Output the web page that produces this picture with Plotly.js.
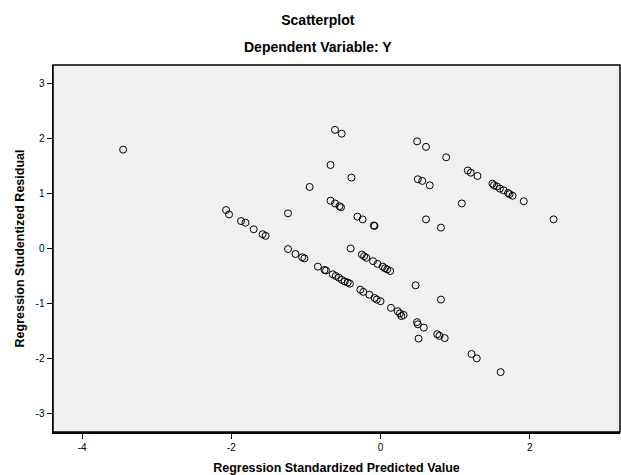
<!DOCTYPE html>
<html>
<head>
<meta charset="utf-8">
<script src="https://cdn.plot.ly/plotly-3.0.1.min.js"></script>
<style>html,body{margin:0;padding:0;background:#fff;}#chart{width:621px;height:475px;}</style>
</head>
<body>
<div id="chart"></div>
<script>
// Regression Standardized Predicted Value
var predicted = [
  -3.45, -2.07, -2.03, -1.87, -1.81, -1.70, -1.58, -1.54, -1.24, -1.24,
  -0.61, -0.52, 0.49, 0.61, 0.88, 1.17, 1.21, 1.30, -0.67, -0.39,
  -0.95, 0.50, 0.56, 0.66, 1.09, -0.67, -0.61, -0.55, -0.53, -0.31,
  -0.24, -0.09, -0.08, 0.61, 0.81, -1.14, -1.05, -1.02, -0.40, -0.25,
  -0.22, -0.19, -0.10, -0.04, 0.03, 0.06, 0.09, 0.13, -0.84, -0.75,
  -0.73, -0.64, -0.60, -0.56, -0.52, -0.48, -0.44, -0.41, -0.27, -0.23,
  -0.15, -0.08, -0.05, 0.00, 0.14, 0.23, 0.26, 0.28, 0.31, 0.47,
  0.81, 0.49, 0.50, 0.58, 0.51, 0.76, 0.79, 0.86, 1.22, 1.29,
  1.61, 1.50, 1.52, 1.56, 1.60, 1.65, 1.71, 1.73, 1.77, 1.92,
  2.32
];
// Regression Studentized Residual
var residual = [
  1.80, 0.70, 0.62, 0.50, 0.47, 0.35, 0.26, 0.23, 0.64, -0.01,
  2.16, 2.09, 1.95, 1.85, 1.66, 1.42, 1.38, 1.32, 1.52, 1.29,
  1.12, 1.26, 1.23, 1.15, 0.82, 0.87, 0.82, 0.77, 0.75, 0.58,
  0.53, 0.42, 0.41, 0.53, 0.38, -0.10, -0.16, -0.18, 0.00, -0.11,
  -0.14, -0.17, -0.23, -0.28, -0.33, -0.36, -0.38, -0.41, -0.33, -0.39,
  -0.40, -0.47, -0.50, -0.53, -0.57, -0.60, -0.62, -0.64, -0.75, -0.79,
  -0.84, -0.90, -0.93, -0.96, -1.08, -1.14, -1.18, -1.23, -1.21, -0.67,
  -0.93, -1.34, -1.38, -1.44, -1.64, -1.56, -1.59, -1.63, -1.92, -2.00,
  -2.25, 1.18, 1.15, 1.13, 1.09, 1.06, 1.01, 0.99, 0.96, 0.86,
  0.53
];
var xTickVals = [-4, -2, 0, 2];
var xTickText = ["-4", "-2", "0", "2"];
var yTickVals = [-3, -2, -1, 0, 1, 2, 3];
var yTickText = ["-3", "-2", "-1", "0", "1", "2", "3"];

var font = "Arial, 'Liberation Sans', sans-serif";
var trace = {
  x: predicted, y: residual, type: "scatter", mode: "markers",
  marker: {symbol: "circle-open", size: 7, color: "#000", line: {width: 1, color: "#000"}},
  hoverinfo: "skip"
};
var axisCommon = {
  showgrid: false, zeroline: false, showline: true, linecolor: "#000", linewidth: 1.5,
  ticks: "outside", ticklen: 5, tickwidth: 1, tickcolor: "#000",
  tickfont: {family: font, size: 10, color: "#000"}, mirror: false
};
var titleX = 0.467;
var layout = {
  width: 621, height: 475,
  margin: {l: 53, r: 1, t: 65, b: 43},
  paper_bgcolor: "#fff", plot_bgcolor: "#f0f0f0",
  showlegend: false,
  title: {text: "<b>Scatterplot</b>", font: {family: font, size: 14, color: "#000"},
          x: titleX, xref: "paper", xanchor: "center", y: 1 - 20/475, yref: "container", yanchor: "middle"},
  annotations: [{
    text: "<b>Dependent Variable: Y</b>", xref: "paper", yref: "paper",
    x: titleX, y: 1, yshift: 18, xanchor: "center", yanchor: "middle", showarrow: false,
    font: {family: font, size: 14, color: "#000"}
  }],
  xaxis: Object.assign({}, axisCommon, {
    range: [-4.39, 3.21], tickvals: xTickVals, ticktext: xTickText,
    title: {text: "<b>Regression Standardized Predicted Value</b>", font: {family: font, size: 12.5, color: "#000"}, standoff: 12}
  }),
  yaxis: Object.assign({}, axisCommon, {
    range: [-3.34, 3.34], tickvals: yTickVals, ticktext: yTickText,
    title: {text: "<b>Regression Studentized Residual</b>", font: {family: font, size: 12.5, color: "#000"}, standoff: 8}
  }),
  shapes: [{type: "rect", xref: "paper", yref: "paper", x0: 0, x1: 1, y0: 0, y1: 1,
            line: {color: "#000", width: 1.5}, fillcolor: "rgba(0,0,0,0)"}]
};
Plotly.newPlot("chart", [trace], layout, {displayModeBar: false, staticPlot: true});
</script>
</body>
</html>
